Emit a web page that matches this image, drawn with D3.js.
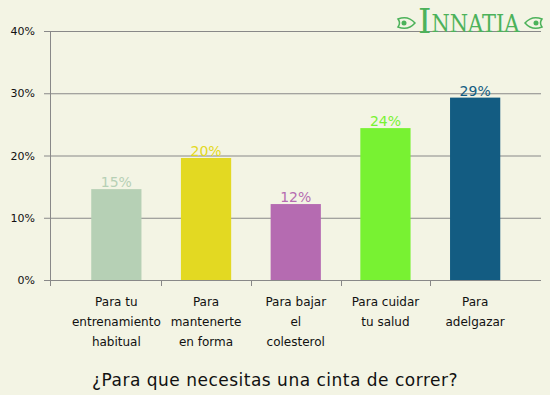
<!DOCTYPE html>
<html>
<head>
<meta charset="utf-8">
<script src="https://cdn.jsdelivr.net/npm/d3@7"></script>
<style>
  body { margin: 0; background: #f3f4e4; }
  svg { display: block; font-family: "DejaVu Sans", sans-serif; }
</style>
</head>
<body>
<div id="chart"></div>
<script>
// data
var categories = [
  ["Para tu", "entrenamiento", "habitual"],
  ["Para", "mantenerte", "en forma"],
  ["Para bajar", "el", "colesterol"],
  ["Para cuidar", "tu salud"],
  ["Para", "adelgazar"]
];
var values = [14.6, 19.6, 12.2, 24.4, 29.3];
var labels = ["15%", "20%", "12%", "24%", "29%"];
var colors = ["#b6d0b5", "#e3d922", "#b56bb1", "#78f232", "#135c82"];
var yTicks = [0, 10, 20, 30, 40];

var W = 550, H = 395;

var svg = d3.select("#chart")
  .append("svg")
    .attr("width", W)
    .attr("height", H);

svg.append("rect").attr("width", W).attr("height", H).attr("fill", "#f3f4e4");

var x = d3.scaleBand()
  .domain(d3.range(values.length))
  .range([71.5, 520])
  .paddingInner(0.44)
  .paddingOuter(0.22);

var y = d3.scaleLinear()
  .domain([0, 40])
  .range([280, 31]);

// grid lines + left ticks
svg.append("g").selectAll("line")
  .data(yTicks)
  .enter().append("line")
    .attr("x1", 44)
    .attr("x2", 541)
    .attr("y1", function(d) { return y(d) + 0.5; })
    .attr("y2", function(d) { return y(d) + 0.5; })
    .attr("stroke", "#888")
    .attr("stroke-width", 1);

svg.append("g").selectAll("text")
  .data(yTicks)
  .enter().append("text")
    .attr("x", 35)
    .attr("y", function(d) { return y(d) + 4; })
    .attr("text-anchor", "end")
    .attr("font-size", "11px")
    .attr("fill", "#111")
    .text(function(d) { return d + "%"; });

// left axis
svg.append("line")
  .attr("x1", 50.5).attr("x2", 50.5)
  .attr("y1", 31).attr("y2", 286)
  .attr("stroke", "#888");

// bottom ticks between categories
var step = x.step();
svg.append("g").selectAll("line")
  .data(d3.range(1, values.length))
  .enter().append("line")
    .attr("x1", function(i) { return Math.round(x(i) - (step - x.bandwidth()) / 2) + 0.5; })
    .attr("x2", function(i) { return Math.round(x(i) - (step - x.bandwidth()) / 2) + 0.5; })
    .attr("y1", 280)
    .attr("y2", 286)
    .attr("stroke", "#888");

// bars
svg.append("g").selectAll("rect")
  .data(values)
  .enter().append("rect")
    .attr("x", function(d, i) { return x(i); })
    .attr("y", function(d) { return y(d); })
    .attr("width", x.bandwidth())
    .attr("height", function(d) { return y(0) - y(d); })
    .attr("fill", function(d, i) { return colors[i]; });

// value labels
svg.append("g").selectAll("text")
  .data(values)
  .enter().append("text")
    .attr("x", function(d, i) { return x(i) + x.bandwidth() / 2; })
    .attr("y", function(d) { return y(d) - 2; })
    .attr("text-anchor", "middle")
    .attr("font-size", "14px")
    .attr("fill", function(d, i) { return colors[i]; })
    .text(function(d, i) { return labels[i]; });

// category labels
var cat = svg.append("g").selectAll("text")
  .data(categories)
  .enter().append("text")
    .attr("text-anchor", "middle")
    .attr("font-size", "12px")
    .attr("fill", "#111");
cat.selectAll("tspan")
  .data(function(d, i) { return d.map(function(s) { return {s: s, i: i}; }); })
  .enter().append("tspan")
    .attr("x", function(d) { return x(d.i) + x.bandwidth() / 2; })
    .attr("y", function(d, j) { return 306 + j * 20; })
    .text(function(d) { return d.s; });

// title
svg.append("text")
  .attr("x", 275)
  .attr("y", 386)
  .attr("text-anchor", "middle")
  .attr("font-size", "17px")
  .attr("letter-spacing", "0.5px")
  .attr("fill", "#111")
  .text("¿Para que necesitas una cinta de correr?");

// logo
var logo = svg.append("g").attr("fill", "#4cb25a").attr("stroke", "none");
var logoText = logo.append("text")
  .attr("x", 418)
  .attr("y", 33)
  .attr("font-family", "DejaVu Serif, serif");
logoText.append("tspan")
  .attr("font-size", "34px")
  .text("I");
logoText.append("tspan")
  .attr("font-size", "24px")
  .attr("dy", -1)
  .attr("textLength", 88)
  .attr("lengthAdjust", "spacingAndGlyphs")
  .text("NNATIA");
[[406, -1], [534, 1]].forEach(function(o) {
  var g = logo.append("g").attr("transform", "translate(" + o[0] + ",23) scale(" + o[1] + ",1)");
  g.append("path")
    .attr("d", "M-9,0 Q-2,-8 8,-4 Q5,0 8,4 Q-2,8 -9,0 Z")
    .attr("fill", "none").attr("stroke", "#4cb25a").attr("stroke-width", 1.5);
  g.append("circle").attr("cx", 2).attr("cy", 0).attr("r", 2.5);
});
</script>
</body>
</html>
